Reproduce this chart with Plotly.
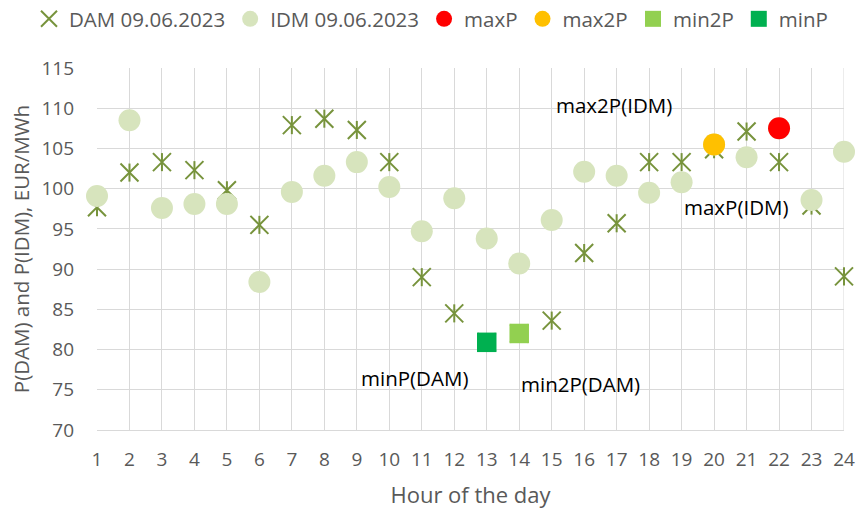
import plotly.graph_objects as go

hours = list(range(1, 25))
dam = [97.7, 102.0, 103.3, 102.3, 99.8, 95.5, 107.9, 108.7, 107.3, 103.3, 89.0, 84.5,
       80.9, 82.0, 83.6, 92.0, 95.7, 103.3, 103.3, 104.9, 107.1, 103.3, 97.9, 89.1]
idm = [99.1, 108.5, 97.6, 98.1, 98.1, 88.4, 99.6, 101.6, 103.3, 100.2, 94.7, 98.8,
       93.8, 90.7, 96.1, 102.1, 101.6, 99.5, 100.8, 105.5, 103.9, 107.5, 98.6, 104.6]

maxP_h, maxP_v = [22], [107.5]
max2P_h, max2P_v = [20], [105.5]
min2P_h, min2P_v = [14], [82.0]
minP_h, minP_v = [13], [80.9]

labels = ["max2P(IDM)", "maxP(IDM)", "minP(DAM)", "min2P(DAM)"]
label_x = [16.92, 20.69, 10.79, 15.90]
label_y = [110.4, 97.7, 76.45, 75.7]

x_ticks = hours
y_ticks = list(range(70, 116, 5))

FONT = "Open Sans"
GREY = "#595959"
DAMC = "#77933c"

fig = go.Figure()
fig.add_trace(go.Scatter(x=hours, y=dam, mode="markers", name="DAM 09.06.2023",
                         legendgroup="dam",
                         marker=dict(symbol="x-thin-open", size=18, color=DAMC,
                                     line=dict(color=DAMC, width=2)),
                         cliponaxis=False))
fig.add_trace(go.Scatter(x=hours, y=dam, mode="markers", name="DAM 09.06.2023",
                         legendgroup="dam", showlegend=False,
                         marker=dict(symbol="line-ns-open", size=12.9, color=DAMC,
                                     line=dict(color=DAMC, width=2)),
                         cliponaxis=False))
fig.add_trace(go.Scatter(x=hours, y=idm, mode="markers", name="IDM 09.06.2023",
                         marker=dict(symbol="circle", size=22, color="#d7e4bd"),
                         cliponaxis=False))
fig.add_trace(go.Scatter(x=maxP_h, y=maxP_v, mode="markers", name="maxP",
                         marker=dict(symbol="circle", size=22, color="#ff0000"),
                         cliponaxis=False))
fig.add_trace(go.Scatter(x=max2P_h, y=max2P_v, mode="markers", name="max2P",
                         marker=dict(symbol="circle", size=22, color="#ffc000"),
                         cliponaxis=False))
fig.add_trace(go.Scatter(x=min2P_h, y=min2P_v, mode="markers", name="min2P",
                         legend="legend2",
                         marker=dict(symbol="square", size=19.5, color="#92d050"),
                         cliponaxis=False))
fig.add_trace(go.Scatter(x=minP_h, y=minP_v, mode="markers", name="minP",
                         legend="legend2",
                         marker=dict(symbol="square", size=19.5, color="#00b050"),
                         cliponaxis=False))

for t, xx, yy in zip(labels, label_x, label_y):
    fig.add_annotation(x=xx, y=yy, text=t, showarrow=False,
                       font=dict(family=FONT, size=20.5, color="#000000"))

leg_common = dict(orientation="h", xref="container", yref="container",
                  y=1 - 19 / 509, xanchor="left", yanchor="middle",
                  font=dict(family=FONT, size=20.5, color=GREY),
                  itemwidth=30, tracegroupgap=0, bgcolor="rgba(0,0,0,0)")

fig.update_layout(
    width=859, height=509,
    margin=dict(l=97, r=15, t=68, b=79, autoexpand=False),
    paper_bgcolor="white", plot_bgcolor="white",
    font=dict(family=FONT, size=19, color=GREY),
    showlegend=True,
    legend=dict(x=29 / 859, **leg_common),
    legend2=dict(x=633 / 859, **leg_common),
)
fig.update_xaxes(range=[1, 24], tickvals=x_ticks, showgrid=True, gridcolor="#d9d9d9",
                 gridwidth=1, zeroline=False, showline=True, linecolor="#d9d9d9",
                 ticks="", ticklabelstandoff=12, automargin=False,
                 tickfont=dict(family=FONT, size=19, color=GREY),
                 title=dict(text="Hour of the day", standoff=17,
                            font=dict(family=FONT, size=22, color=GREY)))
fig.update_yaxes(range=[70, 115], tickvals=y_ticks, showgrid=True, gridcolor="#d9d9d9",
                 gridwidth=1, zeroline=False, showline=False, ticks="",
                 ticklabelstandoff=22, automargin=False,
                 tickfont=dict(family=FONT, size=19, color=GREY),
                 title=dict(text="P(DAM) and P(IDM), EUR/MWh", standoff=6,
                            font=dict(family=FONT, size=20.5, color=GREY)))
fig.add_shape(type="line", xref="x", yref="paper", x0=24, x1=24, y0=0, y1=1,
              line=dict(color="#d9d9d9", width=1), layer="below")

fig.write_html("out.html",
               config={"displayModeBar": False},
               post_script="document.body.style.margin='0px';"
                           "document.body.style.overflow='hidden';")
